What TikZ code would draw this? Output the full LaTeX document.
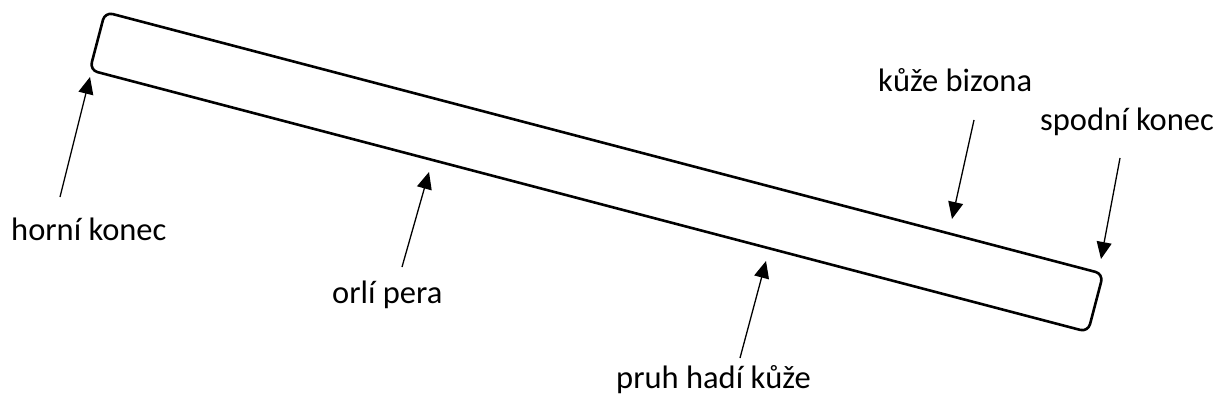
\documentclass[tikz,border=0pt]{standalone}
\usepackage{fontspec}
\setmainfont{Carlito}
\usetikzlibrary{arrows.meta}
\begin{document}
\begin{tikzpicture}[x=1pt,y=-1pt,
  lbl/.style={anchor=base west,inner sep=0pt,font=\fontsize{32.5}{38}\selectfont},
  arr/.style={line width=1.3pt,-{Triangle[length=17pt,width=15pt]}},
  stickbox/.style={draw,line width=2.6pt,rounded corners=8pt,minimum width=1032pt,minimum height=60pt,inner sep=0pt,rotate=-14.7}]
\useasboundingbox (0,0) rectangle (1225,409);
\node[stickbox] (stick) at (596.5,172) {};
\node[lbl] (hk) at (11,240) {horní konec};
\node[lbl] (op) at (332,303) {orlí pera};
\node[lbl] (ph) at (616,388) {pruh hadí kůže};
\node[lbl] (kb) at (878,92) {kůže bizona};
\node[lbl] (sk) at (1040,130) {spodní konec};
\coordinate (hkT) at (60,197);  \coordinate (hkH) at (90,77);
\coordinate (opT) at (402,267); \coordinate (opH) at (429,172);
\coordinate (phT) at (740,358); \coordinate (phH) at (766,261);
\coordinate (kbT) at (974,120); \coordinate (kbH) at (952,219);
\coordinate (skT) at (1120,158);\coordinate (skH) at (1101,259);
\draw[arr] (hkT) -- (hkH);
\draw[arr] (opT) -- (opH);
\draw[arr] (phT) -- (phH);
\draw[arr] (kbT) -- (kbH);
\draw[arr] (skT) -- (skH);
\end{tikzpicture}
\end{document}
